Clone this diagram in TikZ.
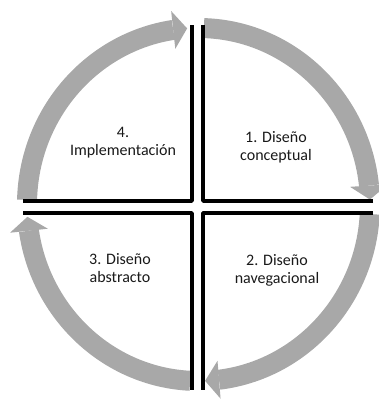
\documentclass[tikz,border=0pt]{standalone}
\usepackage{fontspec}
\setmainfont{Carlito}
\usepackage{xcolor}
\usetikzlibrary{arrows.meta, bending}
\definecolor{arcgray}{RGB}{168,168,168}

\begin{document}
\begin{tikzpicture}[x=1pt,y=1pt,
		flowarc/.style={draw=arcgray, line width=20pt, -{Triangle[width=38pt,length=14pt,line width=0pt]}},
		quadline/.style={draw=black, line width=3.5pt, line join=round},
		steplabel/.style={align=center, font=\fontsize{16}{18}\selectfont, text=black!90}]
						\useasboundingbox (0,0) rectangle (378,399);
						\coordinate (ctr) at (198.5,194.5);
						
						\draw[flowarc] (ctr) ++(178.5:171.5 and 176.5) arc[start angle=178.5, end angle=93.8, x radius=171.5, y radius=176.5];
						\draw[flowarc] (ctr) ++(88.2:171.5 and 176.5) arc[start angle=88.2, end angle=1.6, x radius=171.5, y radius=176.5];
						\draw[flowarc] (ctr) ++(-3.1:171.5 and 176.5) arc[start angle=-3.1, end angle=-87.8, x radius=171.5, y radius=176.5];
						\draw[flowarc] (ctr) ++(-92.8:171.5 and 176.5) arc[start angle=-92.8, end angle=-176, x radius=171.5, y radius=176.5];
						
						\draw[quadline] (23,198) -- (192,198) -- (192,374);
						\draw[quadline] (373,198) -- (203,198) -- (203,374);
						\draw[quadline] (23,186) -- (192,186) -- (192,9);
						\draw[quadline] (373,186) -- (203,186) -- (203,9);
						
						\node[steplabel] (conceptual) at (276,252) {1. Diseño\\conceptual};
						\node[steplabel] (navegacional) at (277,129) {2. Diseño\\navegacional};
						\node[steplabel] (abstracto) at (120,131) {3. Diseño\\abstracto};
						\node[steplabel] (implementacion) at (123,256) {4.\\Implementación};
					\end{tikzpicture}
\end{document}
